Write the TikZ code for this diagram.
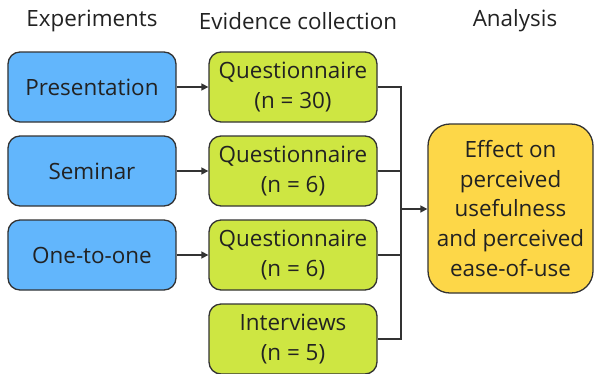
\documentclass[tikz,border=0pt]{standalone}
\usepackage{fontspec}
\setmainfont{Open Sans}
\usetikzlibrary{arrows.meta}
\definecolor{bluebox}{RGB}{98,182,252}
\definecolor{greenbox}{RGB}{206,230,66}
\definecolor{yellowbox}{RGB}{253,215,72}
\definecolor{edge}{RGB}{51,51,51}
\definecolor{txt}{RGB}{34,34,34}
\begin{document}
\begin{tikzpicture}[x=1bp,y=-1bp,
  box/.style={draw=edge,line width=1.3bp,rounded corners=12bp,minimum width=168bp,minimum height=70bp,align=center,text=txt,font=\fontsize{22.5}{30}\selectfont,inner sep=1bp},
  bbox/.style={box,fill=bluebox},
  gbox/.style={box,fill=greenbox},
  ybox/.style={box,fill=yellowbox,minimum width=165bp,minimum height=169bp,rounded corners=22bp},
  head/.style={text=txt,font=\fontsize{22.5}{30}\selectfont},
  conn/.style={draw=edge,line width=1.5bp},
  arr/.style={conn,-{Triangle[length=7bp,width=7bp]}}]
\useasboundingbox (0,0) rectangle (594,373);
\node[head] (h1) at (92,21) {Experiments};
\node[head] (h2) at (298,21) {Evidence collection};
\node[head] (h3) at (515,21) {Analysis};
\node[bbox] (p) at (92,87) {Presentation};
\node[bbox] (s) at (92,171) {Seminar};
\node[bbox] (o) at (92,255) {One-to-one};
\node[gbox] (q1) at (293,87) {Questionnaire\\(n = 30)};
\node[gbox] (q2) at (293,171) {Questionnaire\\(n = 6)};
\node[gbox] (q3) at (293,255) {Questionnaire\\(n = 6)};
\node[gbox] (iv) at (293,339) {Interviews\\(n = 5)};
\node[ybox] (e) at (510.5,208.5) {Effect on\\perceived\\usefulness\\and perceived\\ease-of-use};
\draw[arr] (p) -- (q1);
\draw[arr] (s) -- (q2);
\draw[arr] (o) -- (q3);
\coordinate (j) at (401,209);
\draw[conn] (q1.east) -| (401,339) -- (iv.east);
\draw[conn] (q2.east) -- (q2.east -| j);
\draw[conn] (q3.east) -- (q3.east -| j);
\draw[arr] (j) -- (e.west |- j);
\end{tikzpicture}
\end{document}
